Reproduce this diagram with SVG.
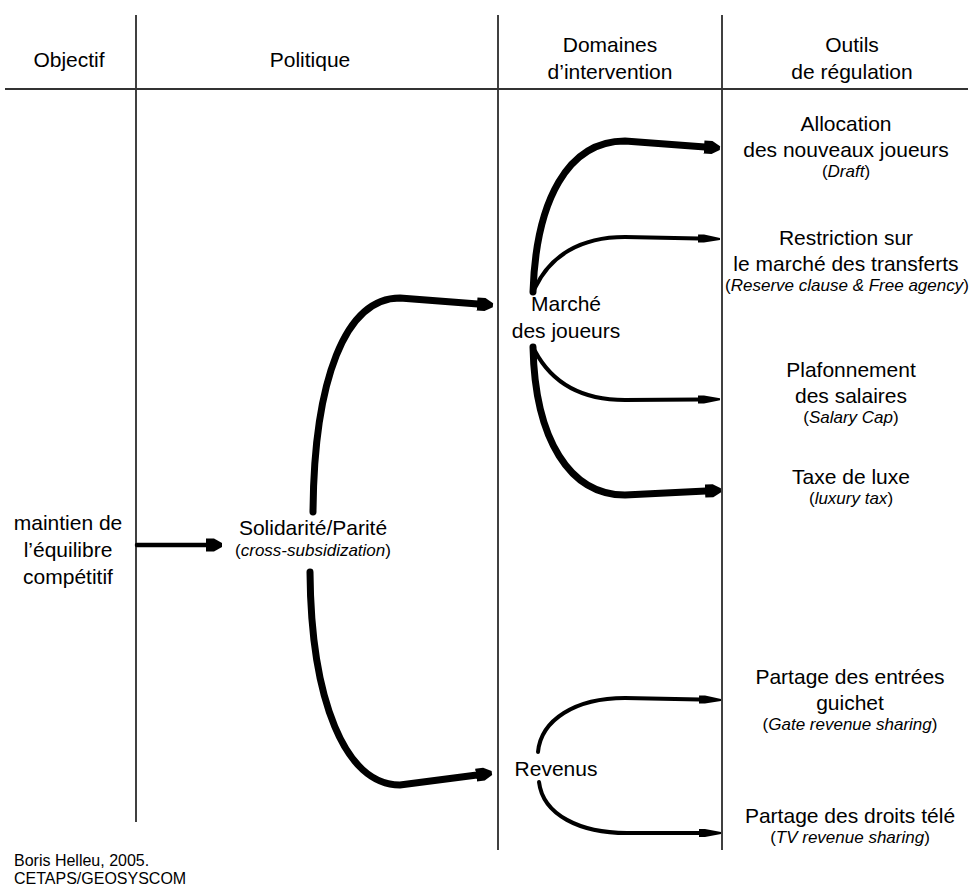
<svg xmlns="http://www.w3.org/2000/svg" width="973" height="890" viewBox="0 0 973 890">
<style>
text{font-family:"Liberation Sans",Arial,sans-serif;fill:#000;text-anchor:middle}
.h{font-size:21px}
.m{font-size:21px}
.s{font-size:17px}
.i{font-style:italic}
.grid{stroke:#000;stroke-width:1.5;fill:none}
.thick{stroke:#000;stroke-width:7;fill:none;stroke-linecap:round}
.thin{stroke:#000;stroke-width:4;fill:none;stroke-linecap:round}
</style>
<defs>
<marker id="ah" markerUnits="userSpaceOnUse" markerWidth="20" markerHeight="16" refX="1" refY="8" orient="auto">
<path d="M0,1.5 L8,1.5 L16,6 L16,10 L8,14.5 L0,14.5 Z" fill="#000"/>
</marker>
<marker id="at" markerUnits="userSpaceOnUse" markerWidth="24" markerHeight="12" refX="1" refY="6" orient="auto">
<path d="M0,2 L6,2 L22,5 L22,7 L6,10 L0,10 Z" fill="#000"/>
</marker>
</defs>
<g id="grid">
<line class="grid" x1="136" y1="15" x2="136" y2="822"/>
<line class="grid" x1="498" y1="15" x2="498" y2="850"/>
<line class="grid" x1="722" y1="15" x2="722" y2="850"/>
<line x1="5" y1="89" x2="968" y2="89" stroke="#333" stroke-width="2.2"/>
</g>
<g id="headers">
<text class="h" x="69" y="67">Objectif</text>
<text class="h" x="310" y="67">Politique</text>
<text class="h" x="610" y="52">Domaines</text>
<text class="h" x="610" y="79">d’intervention</text>
<text class="h" x="852" y="52">Outils</text>
<text class="h" x="852" y="79">de régulation</text>
</g>
<g id="connectors">
<path class="thin" d="M137,545 L207,545" marker-end="url(#ah)" style="stroke-width:4.5"/>
<path class="thick" d="M313,512 C314,380 345,298 400,298 L478,304" marker-end="url(#ah)"/>
<path class="thick" d="M310,572 C311,700 345,785 400,785 L477,775" marker-end="url(#ah)"/>
<path class="thick" d="M533,292 C536,200 568,141 625,141 L705,147" marker-end="url(#ah)"/>
<path class="thin" d="M535,288 C550,256 580,237 625,237 L699,238.5" marker-end="url(#at)"/>
<path class="thin" d="M535,351 C553,385 585,400 625,400 L699,399.5" marker-end="url(#at)"/>
<path class="thick" d="M533,347 C535,440 570,495 625,495 L706,491" marker-end="url(#ah)"/>
<path class="thin" d="M538,752 C541,720 575,698 625,698 L700,699.5" marker-end="url(#at)"/>
<path class="thin" d="M539,782 C543,815 580,833 627,833 L700,833" marker-end="url(#at)"/>
</g>
<g id="node-objectif">
<text class="m" x="68" y="530">maintien de</text>
<text class="m" x="68" y="557">l’équilibre</text>
<text class="m" x="68" y="584">compétitif</text>
</g>
<g id="node-solidarite">
<text class="m" x="313" y="535">Solidarité/Parité</text>
<text class="s" x="313" y="556">(<tspan class="i">cross-subsidization</tspan>)</text>
</g>
<g id="node-marche">
<text class="m" x="566" y="311">Marché</text>
<text class="m" x="566" y="338">des joueurs</text>
</g>
<g id="node-revenus">
<text class="m" x="556" y="776">Revenus</text>
</g>
<g id="node-draft">
<text class="m" x="846" y="131">Allocation</text>
<text class="m" x="846" y="157">des nouveaux joueurs</text>
<text class="s" x="846" y="177">(<tspan class="i">Draft</tspan>)</text>
</g>
<g id="node-restriction">
<text class="m" x="846" y="245">Restriction sur</text>
<text class="m" x="846" y="271">le marché des transferts</text>
<text class="s" x="847" y="291">(<tspan class="i">Reserve clause &amp; Free agency</tspan>)</text>
</g>
<g id="node-salaires">
<text class="m" x="851" y="377">Plafonnement</text>
<text class="m" x="851" y="403">des salaires</text>
<text class="s" x="851" y="423">(<tspan class="i">Salary Cap</tspan>)</text>
</g>
<g id="node-luxe">
<text class="m" x="851" y="484">Taxe de luxe</text>
<text class="s" x="851" y="504">(<tspan class="i">luxury tax</tspan>)</text>
</g>
<g id="node-guichet">
<text class="m" x="850" y="684">Partage des entrées</text>
<text class="m" x="850" y="710">guichet</text>
<text class="s" x="850" y="730">(<tspan class="i">Gate revenue sharing</tspan>)</text>
</g>
<g id="node-tele">
<text class="m" x="850" y="823">Partage des droits télé</text>
<text class="s" x="850" y="843">(<tspan class="i">TV revenue sharing</tspan>)</text>
</g>
<g id="footer">
<text x="14" y="866" style="font-size:16px;text-anchor:start">Boris Helleu, 2005.</text>
<text x="14" y="884" style="font-size:16px;text-anchor:start">CETAPS/GEOSYSCOM</text>
</g>
</svg>
